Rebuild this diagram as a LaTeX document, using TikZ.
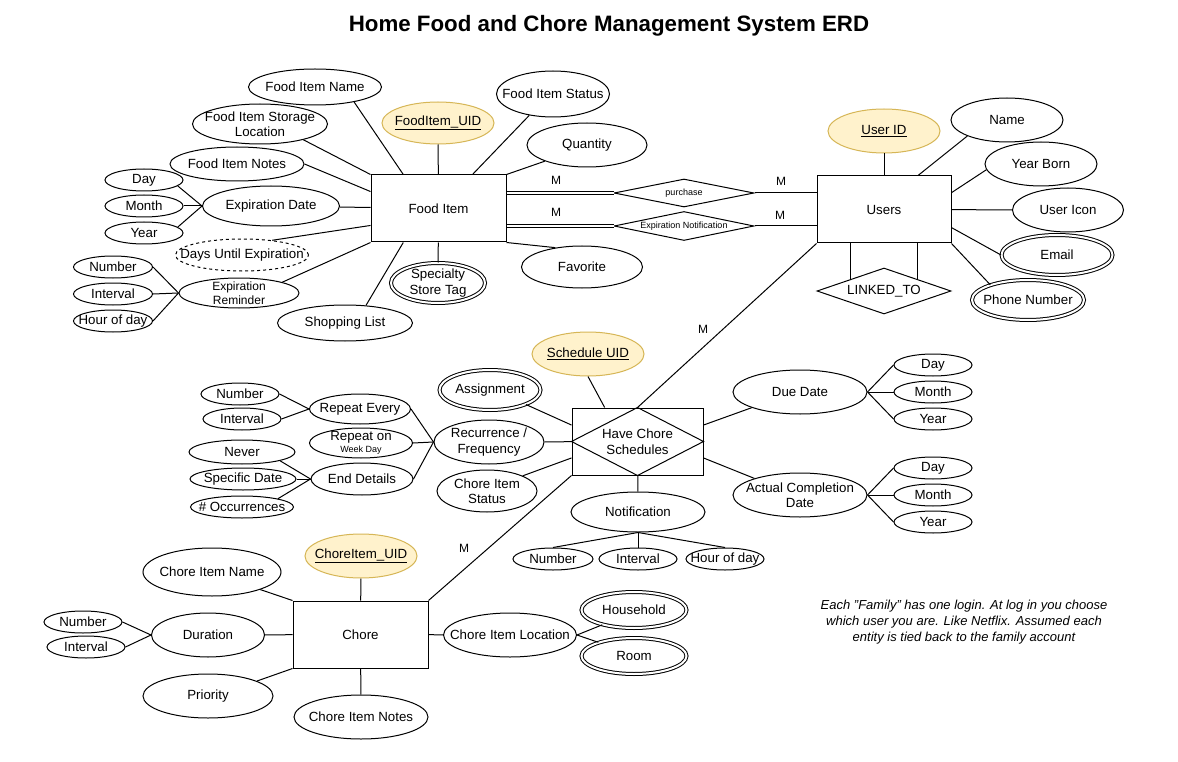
\documentclass[tikz,border=0pt]{standalone}
\usepackage{fontspec}
\setmainfont{Liberation Sans}
\usetikzlibrary{shapes.geometric}
\definecolor{keyfill}{HTML}{FFF2CC}
\definecolor{keyline}{HTML}{D6B656}
\begin{document}
\begin{tikzpicture}[x=1pt,y=-1pt,line width=1pt,
    every node/.style={font=\fontsize{13.3}{15.5}\selectfont},
    ent/.style={draw,rectangle,fill=white,inner sep=0pt,align=center},
    att/.style={draw,ellipse,fill=white,inner sep=-30pt,align=center},
    key/.style={att,fill=keyfill,draw=keyline},
    multi/.style={att,double,double distance=2pt},
    derv/.style={att,dashed},
    rel/.style={draw,diamond,fill=white,inner sep=0pt},
    sz/.style 2 args={minimum width=#1,minimum height=#2},
    txtmid/.style={font=\fontsize{12}{14}\selectfont},
    txtsmall/.style={font=\fontsize{9}{10}\selectfont}]
    \path[fill=white] (0,0) rectangle (1178,762);
    \node[font=\bfseries\fontsize{22.3}{26}\selectfont] (title) at (609,26) {Home Food and Chore Management System ERD};

    \node[ent,sz={135}{67}] (food) at (438.5,208.5) {Food Item};
    \node[key,sz={112}{42}] (fid) at (438,123) {\underline{FoodItem\_UID}};
    \node[att,sz={133}{36}] (fname) at (315,87) {Food Item Name};
    \node[att,sz={135}{40}] (fstore) at (260,124) {Food Item Storage\\Location};
    \node[att,sz={113}{46}] (fstat) at (553,94) {Food Item Status};
    \node[att,sz={120}{44}] (fqty) at (587,145) {Quantity};
    \node[att,sz={134}{34}] (fnote) at (237,164) {Food Item Notes};
    \node[att,sz={137}{40}] (fexp) at (271,206) {Expiration Date};
    \node[att,sz={78}{22}] (eday) at (144,180) {Day};
    \node[att,sz={78}{22}] (emonth) at (144,206) {Month};
    \node[att,sz={78}{22}] (eyear) at (144,233) {Year};
    \node[derv,sz={133}{32}] (fdays) at (242,255) {Days Until Expiration};
    \node[att,txtmid,sz={120}{30}] (frem) at (239,293) {Expiration\\Reminder};
    \node[att,sz={79}{22}] (rnum) at (113,267) {Number};
    \node[att,sz={79}{22}] (rint) at (113,294) {Interval};
    \node[att,sz={79}{22}] (rhour) at (113,321) {Hour of day};
    \node[att,sz={135}{36}] (fshop) at (345,323) {Shopping List};
    \node[multi,sz={94}{40}] (fspec) at (438,283) {Specialty\\Store Tag};
    \node[att,sz={121}{42}] (ffav) at (582,267) {Favorite};

    \node[rel,txtsmall,aspect=5,sz={140}{28}] (buy) at (684,193) {purchase};
    \node[rel,txtsmall,aspect=5,sz={140}{29}] (notify) at (684,226) {Expiration Notification};

    \node[ent,sz={134}{67}] (users) at (884,209.5) {Users};
    \node[key,sz={112}{44}] (uid) at (884,131) {\underline{User ID}};
    \node[att,sz={112}{44}] (uname) at (1007,120) {Name};
    \node[att,sz={112}{44}] (uborn) at (1041,164) {Year Born};
    \node[att,sz={111}{44}] (uicon) at (1068,210) {User Icon};
    \node[multi,sz={111}{40}] (umail) at (1057,255) {Email};
    \node[multi,sz={112}{40}] (uphone) at (1028,300) {Phone Number};
    \node[rel,aspect=3,sz={134}{46}] (link) at (884,291) {LINKED\_TO};

    \node[ent,sz={131}{67}] (hcs) at (637.5,441.5) {Have Chore\\Schedules};
    \node[key,sz={112}{44}] (sid) at (588,354) {\underline{Schedule UID}};
    \node[multi,sz={101}{40}] (assign) at (490,390) {Assignment};
    \node[att,sz={110}{44}] (recur) at (489,442) {Recurrence /\\Frequency};
    \node[att,sz={100}{42}] (cstat) at (487,491) {Chore Item\\Status};
    \node[att,sz={134}{40}] (notif) at (638,512) {Notification};
    \node[att,sz={80}{22}] (nnum) at (553,559) {Number};
    \node[att,sz={78}{22}] (nint) at (638,559) {Interval};
    \node[att,sz={78}{22}] (nhour) at (725,559) {Hour of day};
    \node[att,sz={134}{44}] (due) at (800,392) {Due Date};
    \node[att,sz={134}{44}] (acd) at (800,495) {Actual Completion\\Date};
    \node[att,sz={78}{22}] (dday) at (933,365) {Day};
    \node[att,sz={78}{22}] (dmonth) at (933,392) {Month};
    \node[att,sz={78}{22}] (dyear) at (933,419) {Year};
    \node[att,sz={78}{22}] (aday) at (933,468) {Day};
    \node[att,sz={78}{22}] (amonth) at (933,495) {Month};
    \node[att,sz={78}{22}] (ayear) at (933,522) {Year};

    \node[att,sz={101}{30}] (rev) at (360,409) {Repeat Every};
    \node[att,sz={103}{30}] (ron) at (361,443) {Repeat on\\[-3pt]{\fontsize{9}{10}\selectfont Week Day}};
    \node[att,sz={102}{32}] (rend) at (362,479) {End Details};
    \node[att,sz={78}{22}] (renum) at (240,394) {Number};
    \node[att,sz={78}{22}] (reint) at (242,419) {Interval};
    \node[att,sz={106}{24}] (never) at (242,452) {Never};
    \node[att,sz={106}{22}] (sdate) at (243,479) {Specific Date};
    \node[att,sz={103}{22}] (occur) at (242,507) {\# Occurrences};

    \node[ent,sz={135}{67}] (chore) at (360.5,634.5) {Chore};
    \node[key,sz={112}{44}] (cid) at (361,556) {\underline{ChoreItem\_UID}};
    \node[att,sz={138}{48}] (cname) at (212,572) {Chore Item Name};
    \node[att,sz={113}{44}] (cdur) at (208,635) {Duration};
    \node[att,sz={78}{22}] (cnum) at (83,622) {Number};
    \node[att,sz={78}{22}] (cint) at (86,647) {Interval};
    \node[att,sz={130}{44}] (cprio) at (208,696) {Priority};
    \node[att,sz={134}{44}] (cnote) at (361,717) {Chore Item Notes};
    \node[att,sz={133}{44}] (cloc) at (510,635) {Chore Item Location};
    \node[multi,sz={105}{36}] (chouse) at (634,610) {Household};
    \node[multi,sz={105}{36}] (croom) at (634,656) {Room};

    \node[txtmid] (m1) at (556,180) {M};
    \node[txtmid] (m2) at (556,212) {M};
    \node[txtmid] (m3) at (781,181) {M};
    \node[txtmid] (m4) at (780,215) {M};
    \node[txtmid] (m5) at (703,329) {M};
    \node[txtmid] (m6) at (464,548) {M};
    \node[align=center,font=\itshape\fontsize{13}{16}\selectfont] (note) at (964,622) {Each "Family" has one login. At log in you choose\\which user you are. Like Netflix. Assumed each\\entity is tied back to the family account};

    \draw (fid) -- (food);
    \draw (fname.-21) -- (food.136);
    \draw (fstore.-20) -- (food.north west);
    \draw (fnote.east) -- (food.166);
    \draw (fexp) -- (food);
    \draw (fdays.26) -- (food.194);
    \draw (frem.14) -- (food.south west);
    \draw (fshop.40) -- (food.-136);
    \draw (fspec) -- (food);
    \draw (ffav.144) -- (food.south east);
    \draw (fqty.201) -- (food.north east);
    \draw (fstat.222) -- (food.45);
    \draw (eday.-10) -- (fexp.west);
    \draw (emonth.east) -- (fexp.west);
    \draw (eyear.10) -- (fexp.west);
    \draw (rnum.east) -- (frem.west);
    \draw (rint.east) -- (frem.west);
    \draw (rhour.east) -- (frem.west);

    \draw[double,double distance=2pt] (food.east |- buy.west) -- (buy.west);
    \draw (buy.east) -- (users.west |- buy.east);
    \draw[double,double distance=2pt] (food.east |- notify.west) -- (notify.west);
    \draw (notify.east) -- (users.west |- notify.east);

    \draw (uid) -- (users);
    \draw (uname.202) -- (users.45);
    \draw (uborn.186) -- (users.14);
    \draw (uicon) -- (users);
    \draw (umail.west) -- (users.-15);
    \draw (uphone.158) -- (users.south east);
    \draw (users.south -| link.north west) -- (link.north west);
    \draw (users.south -| link.north east) -- (link.north east);
    \draw (users.south west) -- (hcs.north);

    \draw (hcs.north) -- (hcs.east) -- (hcs.south) -- (hcs.west) -- cycle;
    \draw (sid.south) -- (hcs.134);
    \draw (assign.-22) -- (hcs.166);
    \draw (recur) -- (hcs);
    \draw (cstat.23) -- (hcs.194);
    \draw (hcs.south west) -- (chore.north east);
    \draw (notif) -- (hcs);
    \draw (notif.south) -- (nnum.north);
    \draw (notif.south) -- (nint.north);
    \draw (notif.south) -- (nhour.north);
    \draw (due.198) -- (hcs.14);
    \draw (acd.160) -- (hcs.-14);
    \draw (due.east) -- (dday.west);
    \draw (due.east) -- (dmonth.west);
    \draw (due.east) -- (dyear.west);
    \draw (acd.east) -- (aday.west);
    \draw (acd.east) -- (amonth.west);
    \draw (acd.east) -- (ayear.west);

    \draw (recur.west) -- (rev.east);
    \draw (recur.west) -- (ron.east);
    \draw (recur.west) -- (rend.east);
    \draw (renum.east) -- (rev.west);
    \draw (reint.east) -- (rev.west);
    \draw (never.-13) -- (rend.west);
    \draw (sdate.east) -- (rend.west);
    \draw (occur.13) -- (rend.west);

    \draw (cid) -- (chore);
    \draw (cname.-20) -- (chore.north west);
    \draw (cdur) -- (chore);
    \draw (cnum.east) -- (cdur.west);
    \draw (cint.east) -- (cdur.west);
    \draw (cprio.17) -- (chore.south west);
    \draw (cnote) -- (chore);
    \draw (cloc) -- (chore);
    \draw (cloc.east) -- (chouse.205);
    \draw (cloc.east) -- (croom.159);
\end{tikzpicture}
\end{document}
